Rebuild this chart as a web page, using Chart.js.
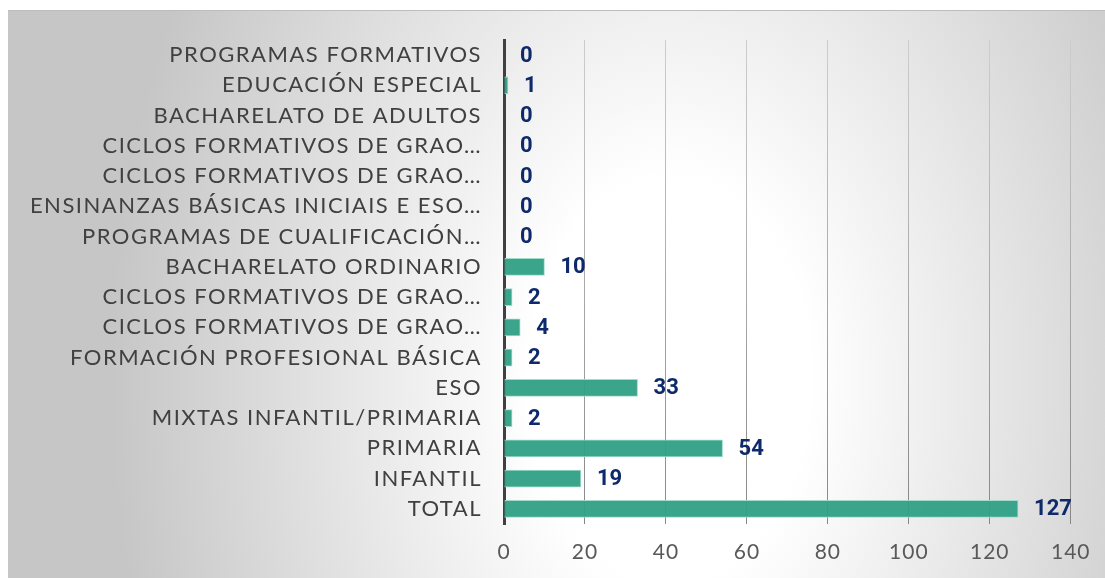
<!DOCTYPE html>
<html>
<head>
<meta charset="utf-8">
<script src="https://cdn.jsdelivr.net/npm/chart.js@4.4.1/dist/chart.umd.min.js"></script>
<style>
  html, body { margin: 0; padding: 0; background: #ffffff; }
  #wrap { position: absolute; left: 0; top: 0; width: 1105px; height: 578px; }
</style>
</head>
<body>
<div id="wrap"><canvas id="c" width="1105" height="578"></canvas></div>
<script>
const categories = [
  "PROGRAMAS FORMATIVOS",
  "EDUCACIÓN ESPECIAL",
  "BACHARELATO DE ADULTOS",
  "CICLOS FORMATIVOS DE GRAO…",
  "CICLOS FORMATIVOS DE GRAO…",
  "ENSINANZAS BÁSICAS INICIAIS E ESO…",
  "PROGRAMAS DE CUALIFICACIÓN…",
  "BACHARELATO ORDINARIO",
  "CICLOS FORMATIVOS DE GRAO…",
  "CICLOS FORMATIVOS DE GRAO…",
  "FORMACIÓN PROFESIONAL BÁSICA",
  "ESO",
  "MIXTAS INFANTIL/PRIMARIA",
  "PRIMARIA",
  "INFANTIL",
  "TOTAL"
];
const values = [0, 1, 0, 0, 0, 0, 0, 10, 2, 4, 2, 33, 2, 54, 19, 127];
const xTickValues = [0, 20, 40, 60, 80, 100, 120, 140];

const FRAME = { x: 8, y: 10 };

const backgroundPlugin = {
  id: 'bgPlugin',
  beforeDraw(chart) {
    const ctx = chart.ctx;
    const w = chart.width, h = chart.height;
    ctx.save();
    ctx.fillStyle = '#ffffff';
    ctx.fillRect(0, 0, w, h);
    const cx = 670, cy = 380, sy = 1.45;
    ctx.translate(cx, cy);
    ctx.scale(1, sy);
    const g = ctx.createRadialGradient(0, 0, 0, 0, 0, 560);
    g.addColorStop(0, '#ffffff');
    g.addColorStop(0.25, '#ffffff');
    g.addColorStop(1, '#c6c6c6');
    ctx.fillStyle = g;
    ctx.fillRect(FRAME.x - cx, (FRAME.y - cy) / sy, w - FRAME.x, (h - FRAME.y) / sy);
    ctx.restore();
    ctx.save();
    ctx.strokeStyle = '#bdbdbd';
    ctx.lineWidth = 1;
    ctx.beginPath();
    ctx.moveTo(FRAME.x, FRAME.y + 0.5);
    ctx.lineTo(w, FRAME.y + 0.5);
    ctx.stroke();
    ctx.restore();
  }
};

const valueLabelPlugin = {
  id: 'valueLabels',
  afterDatasetsDraw(chart) {
    const ctx = chart.ctx;
    const meta = chart.getDatasetMeta(0);
    const ds = chart.data.datasets[0];
    ctx.save();
    ctx.letterSpacing = '0px';
    ctx.font = 'bold 22px Roboto, "Liberation Sans", sans-serif';
    ctx.fillStyle = '#0e2a6b';
    ctx.textAlign = 'left';
    ctx.textBaseline = 'middle';
    meta.data.forEach((el, i) => {
      ctx.fillText(String(ds.data[i]), el.x + 16, el.y + 1);
    });
    ctx.restore();
  }
};

function gridGradient(context) {
  const chart = context.chart;
  const ca = chart.chartArea;
  if (!ca) return '#aaaaaa';
  const g = chart.ctx.createLinearGradient(0, ca.top, 0, ca.bottom);
  g.addColorStop(0, 'rgba(205,205,205,1)');
  g.addColorStop(1, 'rgba(135,135,135,1)');
  return g;
}

const chart = new Chart(document.getElementById('c'), {
  type: 'bar',
  data: {
    labels: categories,
    datasets: [{
      data: values,
      backgroundColor: 'rgba(48,160,134,0.95)',
      borderColor: '#a3dccd',
      borderWidth: 1,
      barThickness: 17
    }]
  },
  options: {
    indexAxis: 'y',
    responsive: false,
    animation: false,
    devicePixelRatio: 1,
    layout: { padding: { left: 8, top: 40, right: 33, bottom: 0 } },
    plugins: {
      legend: { display: false },
      tooltip: { enabled: false },
      title: { display: false }
    },
    scales: {
      x: {
        min: 0,
        max: 140,
        afterBuildTicks(scale) {
          scale.ticks = xTickValues.map(v => ({ value: v }));
        },
        afterFit(scale) { scale.height = 54; },
        grid: {
          color: gridGradient,
          lineWidth: 1,
          drawTicks: false
        },
        border: { display: false },
        ticks: {
          padding: 16,
          color: '#595959',
          font: { family: 'Lato, "Open Sans", sans-serif', size: 21 }
        }
      },
      y: {
        afterFit(scale) { scale.width = 496; },
        grid: { display: false, drawTicks: false },
        border: { display: true, color: '#404040', width: 3 },
        ticks: {
          padding: 22,
          color: '#404040',
          autoSkip: false,
          font: { family: 'Lato, "Open Sans", sans-serif', size: 22 }
        }
      }
    }
  },
  plugins: [backgroundPlugin, valueLabelPlugin]
});

function spaced(scale, spacing) {
  const orig = scale.drawLabels;
  scale.drawLabels = function (area) {
    const ctx = this.ctx;
    const prev = ctx.letterSpacing;
    ctx.letterSpacing = spacing;
    orig.call(this, area);
    ctx.letterSpacing = prev || '0px';
  };
}
spaced(chart.scales.y, '1.5px');
spaced(chart.scales.x, '1px');
chart.draw();
</script>
</body>
</html>
